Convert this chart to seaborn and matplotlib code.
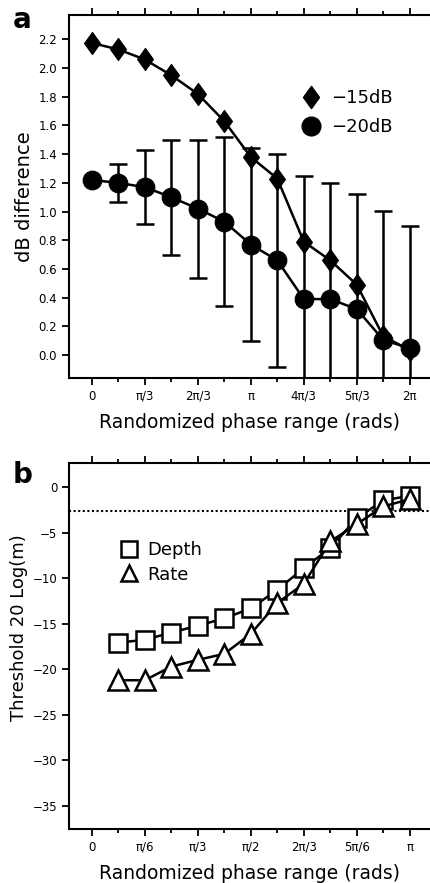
import numpy as np
import matplotlib
matplotlib.use("Agg")
import matplotlib.pyplot as plt
from matplotlib.path import Path
from matplotlib.lines import Line2D
import seaborn as sns

# ---------------- data ----------------
# panel a : x in multiples of pi/6
phase_a_steps = [0, 1, 2, 3, 4, 5, 6, 7, 8, 9, 10, 11, 12]
db_minus15 = [2.175, 2.13, 2.06, 1.95, 1.82, 1.63, 1.38, 1.23, 0.79, 0.66, 0.49, 0.13, 0.035]
db_minus20 = [1.22, 1.20, 1.17, 1.10, 1.02, 0.93, 0.77, 0.66, 0.39, 0.39, 0.32, 0.105, 0.047]
err_minus20 = [np.nan, 0.13, 0.26, 0.40, 0.48, 0.59, 0.67, 0.74, 0.86, 0.81, 0.80, 0.90, 0.85]
a_tick_labels = ["0", "π/3", "2π/3", "π", "4π/3", "5π/3", "2π"]
a_ytick_vals = [0.0, 0.2, 0.4, 0.6, 0.8, 1.0, 1.2, 1.4, 1.6, 1.8, 2.0, 2.2]

# panel b : x in multiples of pi/12
phase_b_steps = [1, 2, 3, 4, 5, 6, 7, 8, 9, 10, 11, 12]
depth = [-17.06, -16.76, -15.96, -15.2, -14.4, -13.3, -11.26, -8.87, -6.67, -3.37, -1.43, -0.91]
rate = [-21.2, -21.2, -19.7, -18.96, -18.3, -16.1, -12.7, -10.6, -5.94, -4.03, -2.09, -1.28]
b_tick_labels = ["0", "π/6", "π/3", "π/2", "2π/3", "5π/6", "π"]
b_ytick_vals = [0, -5, -10, -15, -20, -25, -30, -35]
dotted_level = -2.64

# ---------------- style ----------------
sns.set_style("ticks")
plt.rcParams['font.family'] = ['DejaVu Sans']
plt.rcParams['text.color'] = 'black'
plt.rcParams['axes.labelcolor'] = 'black'
plt.rcParams['xtick.color'] = 'black'
plt.rcParams['ytick.color'] = 'black'
plt.rcParams['axes.edgecolor'] = 'black'
plt.rcParams['axes.linewidth'] = 1.5
plt.rcParams['xtick.major.width'] = 1.3
plt.rcParams['ytick.major.width'] = 1.3
plt.rcParams['xtick.minor.width'] = 1.3

fig = plt.figure(figsize=(4.31, 8.83), dpi=100)
W, H = 431, 883
def axpos(l, t, r, b):
    return [l / W, 1 - b / H, (r - l) / W, (b - t) / H]

ax_a = fig.add_axes(axpos(69, 15, 431, 378))
ax_b = fig.add_axes(axpos(69, 463, 431, 829))

diamond = Path([(0, 1), (0.72, 0), (0, -1), (-0.72, 0), (0, 1)],
               [Path.MOVETO, Path.LINETO, Path.LINETO, Path.LINETO, Path.CLOSEPOLY])

unit_a = np.pi / 6
xa = np.array(phase_a_steps) * unit_a

# error bars (-20dB)
ax_a.errorbar(xa, db_minus20, yerr=err_minus20, fmt='none', ecolor='black',
              elinewidth=1.8, capsize=6.5, capthick=1.8, zorder=2)
sns.lineplot(x=xa, y=db_minus15, ax=ax_a, color='black', lw=1.8,
             marker=diamond, markersize=16, markerfacecolor='black',
             markeredgecolor='black', zorder=3)
sns.lineplot(x=xa, y=db_minus20, ax=ax_a, color='black', lw=1.8,
             marker='o', markersize=13.5, markerfacecolor='black',
             markeredgecolor='black', zorder=4)

ax_a.set_xlim(-0.86 * unit_a, 12.8 * unit_a)
ax_a.set_ylim(-0.16, 2.37)
ax_a.set_xticks(np.arange(0, 13, 2) * unit_a)
ax_a.set_xticklabels(a_tick_labels)
ax_a.set_xticks(np.arange(1, 13, 2) * unit_a, minor=True)
ax_a.set_yticks(a_ytick_vals)
ax_a.set_yticklabels([f"{v:.1f}" for v in a_ytick_vals])
ax_a.set_xlabel("Randomized phase range (rads)", fontsize=13.5, labelpad=7)
ax_a.set_ylabel("dB difference", fontsize=14, labelpad=3)

h_a = [Line2D([], [], ls='none', marker=diamond, markersize=16, color='black', label='−15dB'),
       Line2D([], [], ls='none', marker='o', markersize=13.5, color='black', label='−20dB')]
ax_a.legend(handles=h_a, loc='upper left', bbox_to_anchor=(0.60, 0.84), frameon=False,
            fontsize=13, handlelength=1.0, handletextpad=0.6, labelspacing=0.6)

unit_b = np.pi / 12
xb = np.array(phase_b_steps) * unit_b
ax_b.axhline(dotted_level, color='black', ls=(0, (1, 1.2)), lw=1.5, zorder=1)
sns.lineplot(x=xb, y=depth, ax=ax_b, color='black', lw=1.8,
             marker='s', markersize=13, markerfacecolor='white',
             markeredgecolor='black', markeredgewidth=1.8, zorder=3)
sns.lineplot(x=xb, y=rate, ax=ax_b, color='black', lw=1.8,
             marker='^', markersize=14, markerfacecolor='white',
             markeredgecolor='black', markeredgewidth=1.8, zorder=4)

ax_b.set_xlim(-0.86 * unit_b, 12.8 * unit_b)
ax_b.set_ylim(-37.56, 2.69)
ax_b.set_xticks(np.arange(0, 13, 2) * unit_b)
ax_b.set_xticklabels(b_tick_labels)
ax_b.set_xticks(np.arange(1, 13, 2) * unit_b, minor=True)
ax_b.set_yticks(b_ytick_vals)
ax_b.set_xlabel("Randomized phase range (rads)", fontsize=13.5, labelpad=7)
ax_b.set_ylabel("Threshold 20 Log(m)", fontsize=13, labelpad=3)
ax_b.yaxis.label.set_y(0.549)

h_b = [Line2D([], [], ls='none', marker='s', markersize=11, markerfacecolor='white',
              markeredgecolor='black', markeredgewidth=1.8, label='Depth'),
       Line2D([], [], ls='none', marker='^', markersize=12, markerfacecolor='white',
              markeredgecolor='black', markeredgewidth=1.8, label='Rate')]
ax_b.legend(handles=h_b, loc='upper left', bbox_to_anchor=(0.097, 0.83), frameon=False,
            fontsize=13, handlelength=1.0, handletextpad=0.5, labelspacing=0.35)

for ax in (ax_a, ax_b):
    ax.spines['right'].set_visible(False)
    ax.spines['top'].set_visible(True)
    ax.tick_params(axis='x', which='both', top=True, bottom=True, direction='out', labelsize=8.5, pad=3.5)
    ax.tick_params(axis='x', which='major', length=5)
    ax.tick_params(axis='x', which='minor', length=3)
    ax.tick_params(axis='y', which='major', length=5, labelsize=8.5, direction='out')
    ax.tick_params(axis='y', which='minor', left=False)

fig.text(13 / W, 1 - 28 / H, "a", fontsize=20, fontweight='bold', ha='left', va='baseline')
fig.text(13 / W, 1 - 483 / H, "b", fontsize=20, fontweight='bold', ha='left', va='baseline')

fig.savefig("out.png", dpi=100)
